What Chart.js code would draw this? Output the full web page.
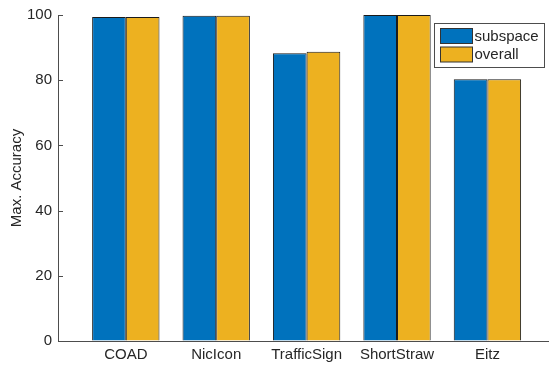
<!DOCTYPE html>
<html>
<head>
<meta charset="utf-8">
<script src="https://cdn.jsdelivr.net/npm/chart.js@4"></script>
<style>
  html, body { margin: 0; padding: 0; background: #fff; }
  #wrap { width: 549px; height: 367px; position: relative; }
</style>
</head>
<body>
<div id="wrap"><canvas id="barChart"></canvas></div>
<script>
const categories = ['COAD', 'NicIcon', 'TrafficSign', 'ShortStraw', 'Eitz'];
const subspace = [99.4, 99.8, 88.3, 100, 80.3];
const overall = [99.4, 99.8, 88.7, 100, 80.3];
const yTicks = [0, 20, 40, 60, 80, 100];

const FONT = 'Liberation Sans, Arial, Helvetica, sans-serif';
const AXIS_COLOR = '#4d4d4d';

// bars sit on a numeric x axis (1..5) so the axis can run past the groups like MATLAB
function toPoints(values) {
    return values.map(function(v, i) { return { x: i + 1, y: v }; });
}

// short inward tick marks on the y axis
const innerTicks = {
    id: 'innerTicks',
    afterDraw: function(chart) {
        const ctx = chart.ctx;
        const y = chart.scales.y;
        const left = chart.chartArea.left;
        ctx.save();
        ctx.strokeStyle = AXIS_COLOR;
        ctx.lineWidth = 1;
        yTicks.forEach(function(t) {
            const py = Math.round(y.getPixelForValue(t)) + 0.5;
            ctx.beginPath();
            ctx.moveTo(left, py);
            ctx.lineTo(left + 5, py);
            ctx.stroke();
        });
        ctx.restore();
    }
};

// boxed legend in the top right corner
const boxLegend = {
    id: 'boxLegend',
    afterDraw: function(chart) {
        const ctx = chart.ctx;
        const sets = chart.data.datasets;
        const x0 = 434.5, y0 = 23.5, w = 110, h = 44;
        ctx.save();
        ctx.fillStyle = '#fff';
        ctx.fillRect(x0, y0, w, h);
        ctx.strokeStyle = AXIS_COLOR;
        ctx.lineWidth = 1;
        ctx.strokeRect(x0, y0, w, h);
        ctx.font = '15px ' + FONT;
        ctx.textBaseline = 'middle';
        sets.forEach(function(ds, i) {
            const sy = y0 + 5 + i * 18.5;
            ctx.fillStyle = ds.backgroundColor;
            ctx.fillRect(x0 + 6, sy, 32, 15);
            ctx.strokeStyle = '#333';
            ctx.strokeRect(x0 + 6, sy, 32, 15);
            ctx.fillStyle = '#262626';
            ctx.fillText(ds.label, x0 + 40, sy + 8);
        });
        ctx.restore();
    }
};

const ctx = document.getElementById('barChart').getContext('2d');

const barChart = new Chart(ctx, {
    type: 'bar',
    data: {
        datasets: [
            {
                label: 'subspace',
                data: toPoints(subspace),
                backgroundColor: '#0072BD',
                borderColor: '#1a1a1a',
                borderWidth: 1
            },
            {
                label: 'overall',
                data: toPoints(overall),
                backgroundColor: '#EDB120',
                borderColor: '#1a1a1a',
                borderWidth: 1
            }
        ]
    },
    options: {
        responsive: true,
        maintainAspectRatio: false,
        animation: false,
        categoryPercentage: 0.745,
        barPercentage: 1,
        layout: { padding: { top: 14, right: 1, left: 0, bottom: 0 } },
        plugins: {
            legend: { display: false },
            tooltip: { enabled: false }
        },
        scales: {
            x: {
                type: 'linear',
                offset: false,
                min: 0.25,
                max: 5.67,
                afterBuildTicks: function(scale) {
                    scale.ticks = categories.map(function(c, i) { return { value: i + 1 }; });
                },
                afterFit: function(scale) { scale.height = 26; },
                ticks: {
                    autoSkip: false,
                    maxRotation: 0,
                    padding: 5,
                    color: '#262626',
                    font: { family: FONT, size: 15 },
                    callback: function(v) { return categories[v - 1]; }
                },
                grid: { display: true, drawOnChartArea: false, drawTicks: false, color: AXIS_COLOR },
                border: { display: true, color: AXIS_COLOR, width: 1 }
            },
            y: {
                min: 0,
                max: 100,
                afterBuildTicks: function(scale) {
                    scale.ticks = yTicks.map(function(v) { return { value: v }; });
                },
                afterFit: function(scale) { scale.width = 58; },
                title: {
                    display: true,
                    text: 'Max. Accuracy',
                    color: '#262626',
                    padding: { top: 8, bottom: 0 },
                    font: { family: FONT, size: 15 }
                },
                ticks: {
                    padding: 6,
                    color: '#262626',
                    font: { family: FONT, size: 15 }
                },
                grid: { display: true, drawOnChartArea: false, drawTicks: false, color: AXIS_COLOR },
                border: { display: true, color: AXIS_COLOR, width: 1 }
            }
        }
    },
    plugins: [innerTicks, boxLegend]
});
</script>
</body>
</html>
